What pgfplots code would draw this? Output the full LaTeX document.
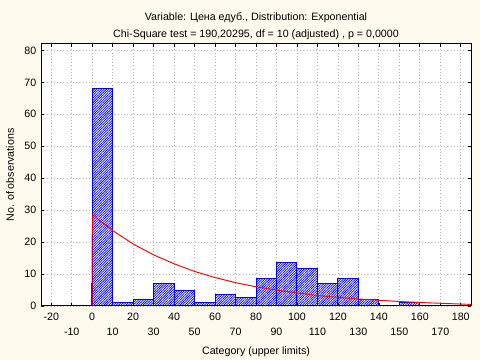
\documentclass[border=0pt]{standalone}
\usepackage{fontspec}
\setmainfont{Liberation Sans}
\usepackage{pgfplots}
\pgfplotsset{compat=1.18}
\usetikzlibrary{patterns.meta,backgrounds}
\definecolor{cream}{HTML}{FFFAEE}
\definecolor{hblue}{HTML}{0000FF}
\begin{document}
\begin{tikzpicture}[font=\fontsize{8}{9.5}\selectfont]
\begin{axis}[
  name=ax,
  scale only axis,
  width=322.5pt, height=196.5pt,
  xmin=-25, xmax=185, ymin=0, ymax=82,
  axis background/.style={fill=white},
  axis line style={black, line width=0.75pt},
  xtick={-20,0,...,180},
  extra x ticks={-10,10,...,170},
  extra x tick style={grid=major, xticklabel style={yshift=-11.5pt}},
  ytick={0,10,...,80},
  tick align=inside,
  major tick length=2pt,
  tick style={black, line width=0.5pt},
  grid=major,
  grid style={gray!60, dotted, line width=0.6pt},
  /pgf/number format/assume math mode=true,
  ticklabel style={font=\fontsize{8}{9.5}\selectfont},
  xticklabel style={yshift=-1.5pt},
  xlabel={Category (upper limits)},
  ylabel={No. of observations},
  xlabel style={yshift=-1.5pt},
  ylabel style={yshift=1pt},
  title={Variable: Цена едуб., Distribution: Exponential\\[3pt]Chi-Square test = 190,20295, df = 10 (adjusted) , p = 0,0000},
  title style={align=center, yshift=-6pt, font=\fontsize{8}{9.5}\selectfont},
]
\addplot[ybar interval, draw=hblue, line width=0.7pt,
  pattern={Lines[angle=45,distance=1.3pt,line width=0.55pt]}, pattern color=hblue]
coordinates {(0,68)(10,1)(20,2)(30,7)(40,5)(50,1)(60,3.7)(70,2.7)(80,8.7)(90,13.7)(100,11.8)(110,6.9)(120,8.7)(130,1.9)(140,0)(150,1.2)(160,0)};
\addplot[hblue, line width=0.7pt] coordinates {(-0.5,0)(-0.5,7.3)};
\addplot[red, line width=0.7pt] coordinates {
(0,0)(0,22)(0.3,28.5)(10,23.6)(20,19.4)(30,16.0)(40,13.2)(50,10.8)(60,8.9)(70,7.3)(80,6.0)(90,5.0)(100,4.1)(110,3.3)(120,2.7)(130,2.2)(140,1.8)(150,1.4)(160,1.1)(170,0.85)(180,0.6)(185,0.5)};
\end{axis}
\begin{scope}[on background layer]
\fill[cream] ([shift={(-30.75pt,-40.5pt)}]ax.south west) rectangle ([shift={(6.75pt,33pt)}]ax.north east);
\end{scope}
\pgfresetboundingbox
\path[use as bounding box] ([shift={(-30.75pt,-40.5pt)}]ax.south west) rectangle ([shift={(6.75pt,33pt)}]ax.north east);
\end{tikzpicture}
\end{document}
